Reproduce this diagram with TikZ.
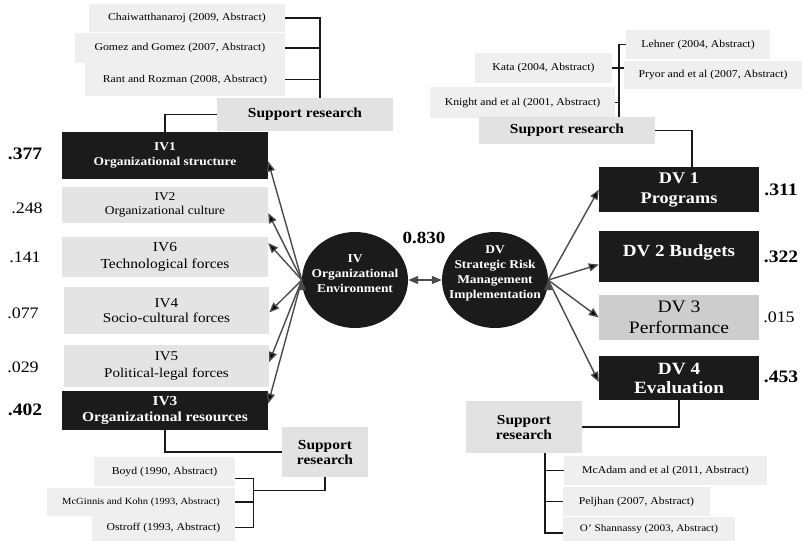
\documentclass[tikz,border=0pt]{standalone}
\usepackage{fontspec}
\setmainfont{Liberation Serif}[FakeStretch=1.12]
\usetikzlibrary{arrows.meta,shapes.geometric}
\definecolor{boxdark}{HTML}{1B1B1B}
\definecolor{boxlight}{HTML}{E4E4E4}
\definecolor{boxcite}{HTML}{EFEFEF}
\definecolor{boxsupp}{HTML}{E2E2E2}
\definecolor{boxmid}{HTML}{CDCDCD}
\definecolor{arrgray}{HTML}{4A4A4A}
\begin{document}
\begin{tikzpicture}[x=1pt,y=-1pt]
        \tikzstyle{dark}=[rectangle,fill=boxdark,text=white,align=center,inner sep=0pt]
        \tikzstyle{light}=[rectangle,fill=boxlight,align=center,inner sep=0pt]
        \tikzstyle{cite}=[rectangle,fill=boxcite,inner sep=0pt,font=\fontsize{10.5}{12}\selectfont]
        \tikzstyle{supp}=[rectangle,fill=boxsupp,align=center,inner sep=0pt,font=\fontsize{13.8}{15}\selectfont\bfseries]
        \tikzstyle{hub}=[ellipse,fill=boxdark,inner sep=0pt,minimum width=106,minimum height=96]
        \tikzstyle{hubtext}=[text=white,align=center,inner sep=0pt,font=\fontsize{12}{15}\selectfont\bfseries]
        \tikzstyle{val}=[inner sep=0pt,font=\fontsize{16}{16}\selectfont]
        \tikzstyle{bval}=[inner sep=0pt,font=\fontsize{17.5}{18}\selectfont\bfseries]
        \tikzstyle{wire}=[draw=black!90,line width=1.3pt]
        \tikzstyle{arr}=[draw=arrgray,line width=1.4pt,-{Triangle[length=10pt,width=8pt]}]

        \useasboundingbox (0,0) rectangle (804,541);

        % independent variables
        \node [dark,minimum width=206,minimum height=47,font=\fontsize{12}{15}\selectfont\bfseries] (iv1) at (165,155.5) {IV1\\Organizational structure};
        \node [light,minimum width=206,minimum height=36,font=\fontsize{12}{14}\selectfont] (iv2) at (165,205) {IV2\\Organizational culture};
        \node [light,minimum width=206,minimum height=40,font=\fontsize{13.8}{17}\selectfont] (iv6) at (165,257) {IV6\\Technological forces};
        \node [light,minimum width=205,minimum height=47,font=\fontsize{13.6}{14.5}\selectfont] (iv4) at (166.5,310.5) {IV4\\Socio-cultural forces};
        \node [light,minimum width=205,minimum height=42,font=\fontsize{13.4}{17}\selectfont] (iv5) at (166.5,366) {IV5\\Political-legal forces};
        \node [dark,minimum width=206,minimum height=39,font=\fontsize{13.8}{16}\selectfont\bfseries] (iv3) at (165,410.5) {IV3\\Organizational resources};

        \node [bval] (w1) at (25,154) {.377};
        \node [val] (w2) at (27,208) {.248};
        \node [val] (w6) at (25,257) {.141};
        \node [val] (w4) at (23,313) {.077};
        \node [val] (w5) at (23,367) {.029};
        \node [bval] (w3) at (25,410) {.402};

        % the two constructs
        \node [hub,label={[hubtext,yshift=6pt]center:{IV\\Organizational\\Environment}}] (iv) at (355,280) {};
        \node [hub,label={[hubtext,yshift=7pt]center:{DV\\Strategic Risk\\Management\\Implementation}}] (dv) at (495,280) {};
        \node [bval,font=\fontsize{17}{18}\selectfont\bfseries] (r) at (424,238) {0.830};

        % dependent variables
        \node [dark,minimum width=160,minimum height=45,font=\fontsize{16.3}{20}\selectfont\bfseries] (dv1) at (679,189.5) {DV 1\\Programs};
        \node [dark,minimum width=160,minimum height=51,text depth=12pt,font=\fontsize{17}{20}\selectfont\bfseries] (dv2) at (679,256.5) {DV 2 Budgets};
        \node [light,fill=boxmid,minimum width=160,minimum height=45,font=\fontsize{17.5}{21}\selectfont] (dv3) at (679,317.5) {DV 3\\Performance};
        \node [dark,minimum width=160,minimum height=44,font=\fontsize{17.2}{19}\selectfont\bfseries] (dv4) at (679,378) {DV 4\\Evaluation};

        \node [bval] (u1) at (781,190) {.311};
        \node [bval] (u2) at (781,257) {.322};
        \node [val] (u3) at (779,317) {.015};
        \node [bval] (u4) at (781,377) {.453};

        % support research, top left
        \node [cite,minimum width=196,minimum height=28] (c1) at (187,18) {Chaiwatthanaroj (2009, Abstract)};
        \node [cite,minimum width=210,minimum height=30] (c2) at (180,48) {Gomez and Gomez (2007, Abstract)};
        \node [cite,minimum width=200,minimum height=33] (c3) at (185,79.5) {Rant and Rozman (2008, Abstract)};
        \node [supp,minimum width=176,minimum height=33] (s1) at (305,114.5) {Support research};

        % support research, top right
        \node [cite,minimum width=144,minimum height=29] (c4) at (698,44.5) {Lehner (2004, Abstract)};
        \node [cite,minimum width=178,minimum height=28] (c5) at (713,75) {Pryor and et al (2007, Abstract)};
        \node [cite,minimum width=137,minimum height=30] (c6) at (543.5,68) {Kata (2004, Abstract)};
        \node [cite,minimum width=185,minimum height=31] (c7) at (522.5,102.5) {Knight and et al (2001, Abstract)};
        \node [supp,minimum width=176,minimum height=27] (s2) at (567,130.5) {Support research};

        % support research, bottom left
        \node [supp,minimum width=86,minimum height=50] (s3) at (325,452) {Support\\research};
        \node [cite,minimum width=141,minimum height=29] (c8) at (164.5,471.5) {Boyd (1990, Abstract)};
        \node [cite,minimum width=188,minimum height=28,font=\fontsize{9.4}{11}\selectfont] (c9) at (141,502) {McGinnis and Kohn (1993, Abstract)};
        \node [cite,minimum width=143,minimum height=27] (c10) at (163.5,527.5) {Ostroff (1993, Abstract)};

        % support research, bottom right
        \node [supp,minimum width=116,minimum height=52] (s4) at (524,427) {Support\\research};
        \node [cite,minimum width=203,minimum height=29] (c11) at (665.5,470.5) {McAdam and et al (2011, Abstract)};
        \node [cite,minimum width=147,minimum height=29] (c12) at (636.5,501.5) {Peljhan (2007, Abstract)};
        \node [cite,minimum width=172,minimum height=24,font=\fontsize{10}{11}\selectfont] (c13) at (649,529) {O' Shannassy (2003, Abstract)};

        % arrows
        \path[arr] (iv.west) edge ([yshift=-6pt]iv1.east)
                             edge ([yshift=-8pt]iv2.east)
                             edge ([yshift=14pt]iv6.east)
                             edge ([yshift=-2pt]iv4.east)
                             edge ([yshift=4pt]iv5.east)
                             edge ([yshift=7pt]iv3.east);
        \path[arr] (dv.east) edge (dv1.west)
                             edge ([yshift=-8pt]dv2.west)
                             edge (dv3.west)
                             edge ([yshift=-4pt]dv4.west);
        \draw[arr,{Triangle[length=10pt,width=8pt]}-{Triangle[length=10pt,width=8pt]}] (iv.east) -- (dv.west);

        % brackets
        \draw[wire] (c1.east) -| ([xshift=15pt]s1.north);
        \draw[wire] (c2.east) -| ([xshift=15pt]s1.north);
        \draw[wire] (c3.east) -| ([xshift=15pt]s1.north);
        \draw[wire] (s1.west) -| (iv1.north);

        \draw[wire] (c4.west) -| ([xshift=52pt]s2.north);
        \draw[wire] (c6.east) -- (c6.east -| c5.west);
        \draw[wire] (c7.east) -| ([xshift=52pt]s2.north);
        \draw[wire] (s2.east) -| ([xshift=13pt]dv1.north);

        \draw[wire] (iv3.south) |- (s3.west);
        \draw[wire] ([yshift=-7pt]c8.east) -- ++(18,0) |- (c10.east);
        \draw[wire] (c9.east) -- ++(18,0);
        \draw[wire] (s3.south) |- ++(-72,13);

        \draw[wire] (dv4.south) |- (s4.east);
        \draw[wire] ([xshift=21pt]s4.south) |- ([yshift=-4pt]c13.west);
        \draw[wire] (c11.west) -- ++(-18,0);
        \draw[wire] (c12.west) -- ++(-18,0);
\end{tikzpicture}
\end{document}
